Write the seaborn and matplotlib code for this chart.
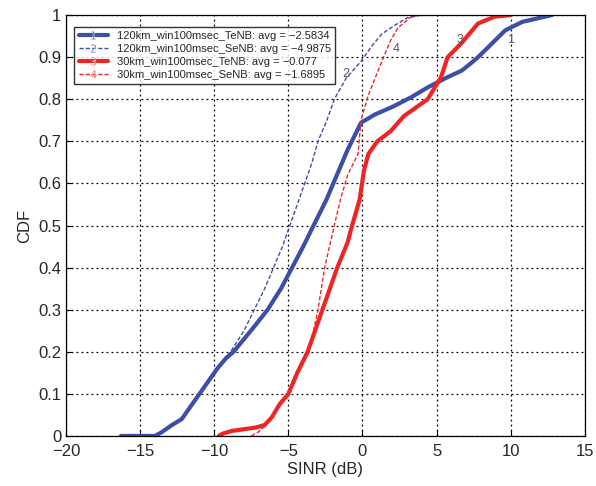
import pandas as pd
import matplotlib
matplotlib.use("Agg")
import matplotlib.pyplot as plt
import seaborn as sns

# CDF curves: SINR (dB) and CDF value
sinr_120_tenb = [-16.3, -14.0, -13.5, -12.9, -12.2, -11.6, -11.0, -10.4, -9.8, -9.2, -8.7, -8.0,
                 -7.3, -6.4, -5.5, -4.75, -4.0, -3.3, -2.45, -1.0, -0.1, 0.8, 2.15, 3.3, 4.4,
                 5.6, 6.7, 7.3, 7.8, 8.5, 9.1, 9.65, 10.8, 12.8]
cdf_120_tenb = [0.0, 0.0, 0.01, 0.025, 0.04, 0.07, 0.10, 0.13, 0.16, 0.185, 0.20, 0.23,
                0.26, 0.30, 0.35, 0.40, 0.45, 0.50, 0.56, 0.68, 0.744, 0.763, 0.784, 0.805, 0.828,
                0.85, 0.868, 0.885, 0.90, 0.924, 0.945, 0.964, 0.984, 1.0]

sinr_120_senb = [-16.3, -14.0, -13.5, -12.9, -12.2, -11.6, -11.0, -10.4, -9.8, -8.9, -8.0,
                 -7.3, -6.6, -6.0, -5.4, -4.9, -4.4, -3.9, -3.4, -3.0, -2.4, -1.9, -1.1,
                 -0.1, 0.6, 1.3, 2.15, 3.0, 4.0]
cdf_120_senb = [0.0, 0.0, 0.01, 0.025, 0.04, 0.07, 0.10, 0.13, 0.16, 0.20, 0.25,
                0.30, 0.35, 0.40, 0.45, 0.50, 0.55, 0.60, 0.65, 0.70, 0.75, 0.80, 0.85,
                0.89, 0.925, 0.955, 0.975, 0.993, 1.0]

sinr_30_tenb = [-9.7, -9.4, -8.8, -8.0, -7.2, -6.6, -6.1, -5.6, -5.0, -4.4, -3.7, -3.2, -2.7,
                -2.2, -1.7, -1.0, -0.7, -0.2, 0.1, 0.4, 1.0, 1.9, 2.8, 3.6, 4.4, 5.3, 5.75,
                6.65, 7.8, 8.9, 10.0]
cdf_30_tenb = [0.0, 0.006, 0.012, 0.016, 0.02, 0.026, 0.045, 0.075, 0.10, 0.15, 0.20, 0.25, 0.30,
               0.35, 0.40, 0.46, 0.50, 0.56, 0.63, 0.67, 0.70, 0.724, 0.76, 0.78, 0.80, 0.852, 0.90,
               0.932, 0.98, 0.996, 1.0]

sinr_30_senb = [-7.5, -7.0, -6.4, -5.8, -5.0, -4.4, -3.6, -3.0, -2.55, -1.9, -1.5, -1.0, -0.3,
                -0.1, 0.4, 1.25, 1.9, 2.4, 3.3, 3.8]
cdf_30_senb = [0.0, 0.01, 0.03, 0.06, 0.10, 0.15, 0.20, 0.30, 0.40, 0.50, 0.56, 0.62, 0.67,
               0.75, 0.81, 0.885, 0.94, 0.97, 0.996, 1.0]

labels = ["120km_win100msec_TeNB: avg = \u22122.5834",
          "120km_win100msec_SeNB: avg = \u22124.9875",
          "30km_win100msec_TeNB: avg = \u22120.077",
          "30km_win100msec_SeNB: avg = \u22121.6895"]
curve_ids = ["1", "2", "3", "4"]

blue = "#3b4fa6"
red = "#f02424"

sns.set_style("ticks")
plt.rcParams["font.family"] = ["Liberation Sans", "DejaVu Sans"]

fig = plt.figure(figsize=(5.96, 4.86), dpi=100)
ax = fig.add_axes([0.111, 0.103, 0.870, 0.866])

series = [
    (sinr_120_tenb, cdf_120_tenb, blue, "-", 3.0),
    (sinr_120_senb, cdf_120_senb, blue, (0, (3, 1.5)), 1.0),
    (sinr_30_tenb, cdf_30_tenb, red, "-", 3.0),
    (sinr_30_senb, cdf_30_senb, red, (0, (3, 1.5)), 1.0),
]
for (x, y, c, ls, lw), lab in zip(series, labels):
    sns.lineplot(x=x, y=y, sort=False, estimator=None, color=c, linestyle=ls,
                 linewidth=lw, label=lab, ax=ax)

# curve numbers
for cid, (tx, ty) in zip(curve_ids, [(10.0, 0.94), (-1.1, 0.86), (6.6, 0.94), (2.3, 0.92)]):
    ax.text(tx, ty, cid, fontsize=9, color="#555555", ha="center", va="center")

ax.set_xlim(-20, 15)
ax.set_ylim(0, 1)
ax.set_xticks(range(-20, 16, 5))
ax.set_yticks([i / 10 for i in range(11)])
ax.set_yticklabels(["0"] + [f"0.{i}" for i in range(1, 10)] + ["1"])
ax.tick_params(direction="in", labelsize=12, length=4, color="black")
ax.tick_params(axis="x", pad=6)
ax.grid(True, linestyle=(0, (1.5, 2.5)), color="black", linewidth=0.9)
for s in ax.spines.values():
    s.set_color("black")
    s.set_linewidth(0.9)
ax.set_xlabel("SINR (dB)", fontsize=12, labelpad=2)
ax.set_ylabel("CDF", fontsize=12)

leg = ax.legend(loc="upper left", fontsize=8, frameon=True, fancybox=False,
                edgecolor="black", handlelength=2.6, borderpad=0.4,
                labelspacing=0.25, bbox_to_anchor=(0.005, 0.985))
leg.get_frame().set_linewidth(1.0)
for h, cid in zip(leg.legend_handles, curve_ids):
    h.set_marker(f"${cid}$")
    h.set_markersize(6)
    h.set_markeredgewidth(0.3)

fig.savefig("out.png", dpi=100)
